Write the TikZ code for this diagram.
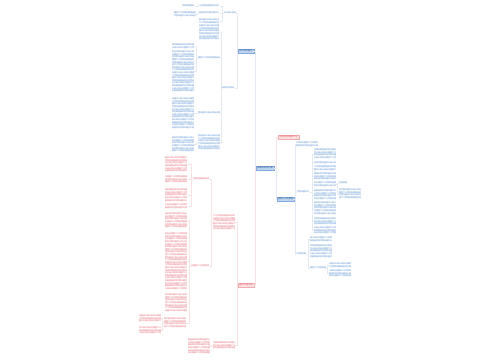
\documentclass[tikz,border=0pt]{standalone}
\usepackage{fontspec}
\newfontfamily\cjk{Noto Sans CJK SC}
\definecolor{tblue}{HTML}{4A86D0}
\definecolor{tred}{HTML}{E45C66}
\definecolor{lblue}{HTML}{BFD5F0}
\definecolor{lpink}{HTML}{FCE0E0}
\definecolor{lnb}{HTML}{E4EAF2}
\definecolor{lnr}{HTML}{F7E2E4}
\newcount\zk
\newcommand\zc[1]{\ifcase#1 工\or 作\or 总\or 结\or 计\or 划\or 学\or 习\or 管\or 理\or 的\or 发\or 展\or 公\or 司\or 年\or 度\or 目\or 标\or 提\or 高\or 质\or 量\else 务\fi}%
\newcommand\zline[2]{\pgfmathtruncatemacro\zs{#2}\zk=0 \loop\ifnum\zk<#1 \advance\zk by 1 \pgfmathtruncatemacro\zr{mod(\zk*7+\zs*5,23)}\zc{\zr}\repeat}%
\newcommand\zblock[3]{\foreach \i in {1,...,#1}{\zline{#2}{\i*3+#3}\ifnum\i<#1\relax\newline\fi}}%
\tikzset{
  tb/.style={anchor=north west, inner sep=0pt, outer sep=0pt, align=left,
    font=\cjk\fontsize{2}{2.6}\selectfont},
  cb/.style={draw=lnb, line width=0.25pt},
  cr/.style={draw=lnr, line width=0.25pt},
  bbox/.style={draw=tblue!70, fill=lblue, text=tblue!70!black, line width=0.25pt,
    inner sep=0pt, minimum height=4pt, font=\cjk\fontsize{2.2}{2.6}\selectfont},
  rbox/.style={draw=tred!50, fill=lpink, text=tred, line width=0.25pt,
    inner sep=0pt, minimum height=4pt, font=\cjk\fontsize{2.2}{2.6}\selectfont}
}
\newcommand\blk[6]{\pgfmathtruncatemacro\zm{#4/2}\node[tb,text=#6,text width=#4pt] (#1) at (#2,#3) {\zblock{#5}{\zm}{#2+#3}};}
\begin{document}
\begin{tikzpicture}[x=1pt,y=-1pt]
\useasboundingbox (0,0) rectangle (500,360);
\fill[white] (0,0) rectangle (500,360);
% root and main branches
\node[bbox, minimum width=18pt] (R) at (265,168) {\zline{7}{1}};
\node[bbox, minimum width=16pt] (T1) at (246,51) {\zline{6}{2}};
\node[rbox, minimum width=16pt] (B1) at (246,285) {\zline{6}{3}};
\node[rbox, minimum width=21pt] (RR) at (288.5,137) {\zline{8}{4}};
\node[bbox, minimum width=17pt] (RB) at (285.5,199) {\zline{7}{5}};
% top-left blue branch
\blk{A}{224}{12}{12}{1}{tblue}
\blk{B}{222}{87}{13}{1}{tblue}
\blk{A1}{199}{5}{21}{1}{tblue}
\blk{A2}{199}{12}{21}{1}{tblue}
\blk{A3}{199}{19}{21}{2}{tblue}
\blk{A1c}{182}{5}{13}{1}{tblue}
\blk{A2c}{174}{12}{22}{2}{tblue}
\blk{Bb1}{199}{25}{21}{6}{tblue}
\blk{B2}{198}{57}{22}{1}{tblue}
\blk{B3}{198}{112}{22}{1}{tblue}
\blk{B4}{198}{135}{22}{6}{tblue}
\blk{H1}{172}{44}{22}{2}{tblue}
\blk{H2}{172}{51}{22}{16}{tblue}
\blk{H3}{172}{98}{22}{12}{tblue}
\blk{H4}{172}{137}{22}{6}{tblue}
% bottom-left red branch
\blk{C}{213}{215}{22}{6}{tred}
\blk{F}{213}{342}{22}{3}{tred}
\blk{D}{193}{178}{16}{1}{tred}
\blk{E}{191}{265}{19}{1}{tred}
\blk{d1}{165}{157}{23}{6}{tred}
\blk{d2}{165}{176}{23}{3}{tred}
\blk{d3}{165}{189}{23}{5}{tred}
\blk{d4}{165}{204}{23}{2}{tred}
\blk{e1}{165}{213}{23}{6}{tred}
\blk{e2}{165}{233}{23}{22}{tred}
\blk{e3}{165}{294}{23}{7}{tred}
\blk{e4}{164}{318}{22}{4}{tred}
\blk{f1}{139}{315}{22}{3}{tred}
\blk{f2}{139}{327}{22}{3}{tred}
\blk{G}{188}{339}{22}{6}{tred}
% right side
\blk{T}{296}{142}{22}{2}{tblue}
\blk{M}{297}{191}{13}{1}{tblue}
\blk{N}{296}{253}{11}{1}{tblue}
\blk{b1}{314}{149}{22}{4}{tblue}
\blk{b2}{314}{162}{22}{1}{tblue}
\blk{b3}{314}{166}{22}{2}{tblue}
\blk{b4}{314}{173}{22}{3}{tblue}
\blk{b5}{314}{182}{22}{2}{tblue}
\blk{b6}{314}{190}{22}{4}{tblue}
\blk{b7}{314}{202}{22}{5}{tblue}
\blk{b8}{314}{218}{22}{3}{tblue}
\blk{b9}{314}{227}{22}{3}{tblue}
\blk{S}{339}{182}{8}{1}{tblue}
\blk{S2}{339}{189}{22}{4}{tblue}
\blk{n1}{310}{237}{23}{2}{tblue}
\blk{n2}{310}{245}{23}{5}{tblue}
\blk{N3}{310}{267}{16}{1}{tblue}
\blk{m1}{329}{263}{22}{2}{tblue}
\blk{m2}{329}{270}{22}{3}{tblue}
% connectors
\draw[cb] (R.west) -- ++(-1,0) |- (T1.east);
\draw[cr] (R.west) -- ++(-1,0) |- (B1.east);
\draw[cr] (R.east) -- ++(2,0) |- (RR.west);
\draw[cb] (R.east) -- ++(2,0) |- (RB.west);
\foreach \c in {A,B} \draw[cb] (T1.west) -- ++(-1,0) |- (\c.east);
\foreach \c in {A1,A2,A3} \draw[cb] (A.west) -- ++(-1.5,0) |- (\c.east);
\draw[cb] (A1.west) -- ++(-1.5,0) |- (A1c.east);
\draw[cb] (A2.west) -- ++(-1.5,0) |- (A2c.east);
\foreach \c in {Bb1,B2,B3,B4} \draw[cb] (B.west) -- ++(-1,0) |- (\c.east);
\foreach \c in {H1,H2} \draw[cb] (B2.west) -- ++(-2,0) |- (\c.east);
\draw[cb] (B3.west) -- ++(-2,0) |- (H3.east);
\draw[cb] (B4.west) -- ++(-2,0) |- (H4.east);
\foreach \c in {C,F} \draw[cr] (B1.west) -- ++(-1,0) |- (\c.east);
\foreach \c in {D,E} \draw[cr] (C.west) -- ++(-1.5,0) |- (\c.east);
\foreach \c in {d1,d2,d3,d4} \draw[cr] (D.west) -- ++(-2,0) |- (\c.east);
\foreach \c in {e1,e2,e3,e4} \draw[cr] (E.west) -- ++(-1.5,0) |- (\c.east);
\foreach \c in {f1,f2} \draw[cr] (e4.west) -- ++(-1.5,0) |- (\c.east);
\draw[cr] (F.west) -- ++(-1.5,0) |- (G.east);
\foreach \c in {T,M,N} \draw[cb] (RB.east) -- ++(1.3,0) |- (\c.west);
\foreach \c in {b1,b2,b3,b4,b5,b6,b7,b8,b9} \draw[cb] (M.east) -- ++(2,0) |- (\c.west);
\foreach \c in {S,S2} \draw[cb] (b5.east) -- ++(1.5,0) |- (\c.west);
\foreach \c in {n1,n2,N3} \draw[cb] (N.east) -- ++(1.5,0) |- (\c.west);
\foreach \c in {m1,m2} \draw[cb] (N3.east) -- ++(1.5,0) |- (\c.west);
\end{tikzpicture}
\end{document}
